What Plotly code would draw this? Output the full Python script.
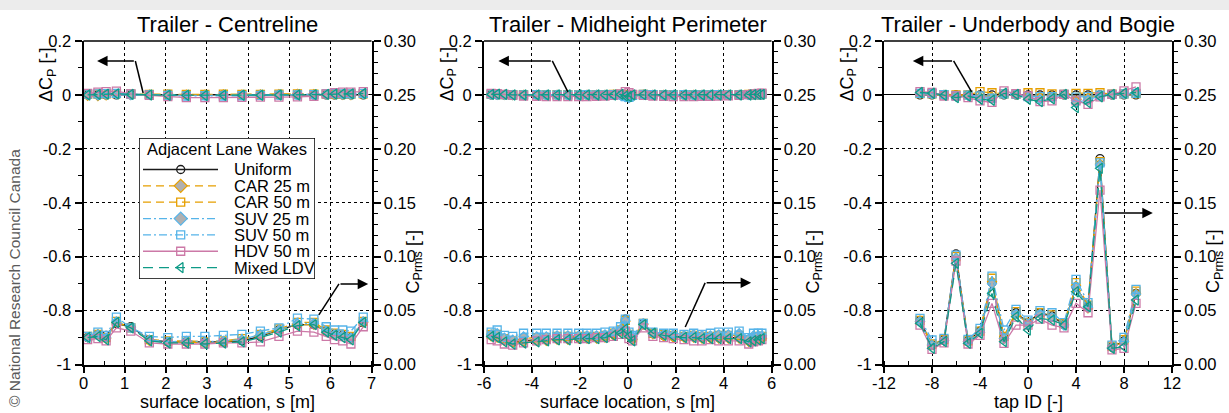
import plotly.graph_objects as go

W, H = 1229, 413
FONT = "Liberation Sans, Arial, sans-serif"

# ---------------------------------------------------------------- labels
SERIES = ["Uniform", "CAR 25 m", "CAR 50 m", "SUV 25 m", "SUV 50 m", "HDV 50 m", "Mixed LDV"]
PANEL_TITLES = ["Trailer - Centreline", "Trailer - Midheight Perimeter", "Trailer - Underbody and Bogie"]
X_TITLES = ["surface location, s [m]", "surface location, s [m]", "tap ID [-]"]
LEGEND_TITLE = "Adjacent Lane Wakes"
LEFT_TITLE = "ΔC<sub>P</sub> [-]"
RIGHT_TITLE = "C<sub>Prms</sub> [-]"
CREDIT = "© National Research Council Canada"

CL_XTICKS = [0, 1, 2, 3, 4, 5, 6, 7]
CL_XLABELS = ["0", "1", "2", "3", "4", "5", "6", "7"]
MP_XTICKS = [-6, -4, -2, 0, 2, 4, 6]
MP_XLABELS = ["-6", "-4", "-2", "0", "2", "4", "6"]
TAP_XTICKS = [-12, -8, -4, 0, 4, 8, 12]
TAP_XLABELS = ["-12", "-8", "-4", "0", "4", "8", "12"]
DCP_TICKS = [-1.0, -0.8, -0.6, -0.4, -0.2, 0.0, 0.2]
DCP_LABELS = ["-1", "-0.8", "-0.6", "-0.4", "-0.2", "0", "0.2"]
RMS_TICKS = [0.0, 0.05, 0.10, 0.15, 0.20, 0.25, 0.30]
RMS_LABELS = ["0.00", "0.05", "0.10", "0.15", "0.20", "0.25", "0.30"]

# ---------------------------------------------------------------- centreline
CL_S = [0.1, 0.35, 0.55, 0.8, 1.15, 1.6, 2.05, 2.5, 2.95, 3.4, 3.85, 4.3, 4.75, 5.2, 5.6, 5.9, 6.1, 6.3, 6.5, 6.8]
CL_DCP = {
    "Uniform":   [0.0, 0.0, 0.0, 0.0, 0.0, 0.0, 0.0, 0.0, 0.0, 0.0, 0.0, 0.0, 0.0, 0.0, 0.0, 0.0, 0.0, 0.0, 0.0, 0.0],
    "CAR 25 m":  [-0.003, -0.004, -0.002, 0.002, 0.000, 0.001, 0.002, 0.001, 0.001, 0.002, 0.001, 0.002, 0.003, 0.004, 0.003, 0.002, 0.001, 0.000, -0.001, 0.001],
    "CAR 50 m":  [0.002, 0.003, 0.004, 0.005, 0.003, 0.002, 0.003, 0.002, 0.002, 0.003, 0.002, 0.002, 0.003, 0.004, 0.003, 0.003, 0.002, 0.002, 0.003, 0.004],
    "SUV 25 m":  [0.000, -0.002, 0.001, 0.002, -0.001, 0.000, 0.001, -0.002, -0.002, -0.001, -0.001, 0.000, 0.001, 0.001, 0.000, 0.002, 0.003, 0.002, 0.001, 0.002],
    "SUV 50 m":  [0.003, 0.004, 0.005, 0.006, 0.003, 0.000, -0.002, -0.004, -0.003, -0.004, -0.003, -0.002, -0.001, 0.000, 0.001, 0.004, 0.005, 0.004, 0.004, 0.006],
    "HDV 50 m":  [0.006, 0.010, 0.012, 0.014, 0.004, -0.002, -0.006, -0.010, -0.010, -0.010, -0.009, -0.008, -0.008, -0.007, -0.005, 0.004, 0.008, 0.010, 0.010, 0.012],
    "Mixed LDV": [0.000, 0.002, 0.003, 0.004, 0.002, 0.000, -0.001, -0.001, -0.002, -0.001, -0.001, -0.001, 0.000, 0.000, 0.001, 0.002, 0.003, 0.004, 0.004, 0.005],
}
CL_RMS = {
    "Uniform":   [0.025, 0.028, 0.027, 0.038, 0.035, 0.023, 0.021, 0.021, 0.021, 0.021, 0.022, 0.026, 0.032, 0.037, 0.037, 0.031, 0.028, 0.027, 0.025, 0.039],
    "CAR 25 m":  [0.025, 0.028, 0.024, 0.039, 0.034, 0.022, 0.021, 0.021, 0.020, 0.021, 0.023, 0.027, 0.032, 0.037, 0.037, 0.031, 0.028, 0.027, 0.025, 0.039],
    "CAR 50 m":  [0.026, 0.028, 0.025, 0.040, 0.034, 0.023, 0.022, 0.022, 0.021, 0.022, 0.024, 0.028, 0.033, 0.039, 0.039, 0.032, 0.029, 0.028, 0.026, 0.040],
    "SUV 25 m":  [0.025, 0.028, 0.025, 0.040, 0.034, 0.023, 0.021, 0.022, 0.021, 0.022, 0.023, 0.028, 0.032, 0.038, 0.038, 0.031, 0.028, 0.027, 0.025, 0.040],
    "SUV 50 m":  [0.026, 0.030, 0.027, 0.044, 0.034, 0.026, 0.025, 0.026, 0.026, 0.027, 0.028, 0.031, 0.034, 0.043, 0.042, 0.035, 0.032, 0.032, 0.031, 0.044],
    "HDV 50 m":  [0.023, 0.024, 0.022, 0.034, 0.031, 0.020, 0.019, 0.019, 0.019, 0.020, 0.020, 0.021, 0.026, 0.031, 0.030, 0.026, 0.023, 0.022, 0.019, 0.035],
    "Mixed LDV": [0.025, 0.026, 0.023, 0.039, 0.034, 0.022, 0.020, 0.020, 0.019, 0.020, 0.021, 0.025, 0.030, 0.036, 0.037, 0.030, 0.027, 0.025, 0.023, 0.039],
}

# ---------------------------------------------------------------- midheight perimeter
MP_S = [-5.7, -5.45, -5.15, -4.8, -4.35, -3.8, -3.4, -2.95, -2.5, -2.05, -1.7, -1.3, -0.95, -0.6, -0.3, -0.1, 0.05,
        0.2, 0.65, 1.05, 1.5, 1.9, 2.35, 2.75, 3.1, 3.45, 3.8, 4.2, 4.65, 5.05, 5.25, 5.45, 5.6]
MP_DCP = {
    "Uniform":   [0.0, 0.0, 0.0, 0.0, 0.0, 0.0, 0.0, 0.0, 0.0, 0.0, 0.0, 0.0, 0.0, 0.0, 0.0, 0.0, 0.0,
                  0.0, 0.0, 0.0, 0.0, 0.0, 0.0, 0.0, 0.0, 0.0, 0.0, 0.0, 0.0, 0.0, 0.0, 0.0, 0.0],
    "CAR 25 m":  [0.001, 0.001, 0.000, -0.001, 0.000, 0.000, -0.001, 0.000, 0.000, -0.001, 0.000, 0.000, 0.000, 0.001, 0.000, -0.003, -0.006,
                  -0.002, 0.001, 0.000, 0.000, -0.001, 0.000, 0.000, 0.000, -0.001, 0.000, 0.000, 0.000, 0.001, 0.001, 0.001, 0.002],
    "CAR 50 m":  [0.002, 0.002, 0.001, 0.001, 0.001, 0.001, 0.001, 0.001, 0.001, 0.001, 0.001, 0.001, 0.001, 0.002, 0.002, 0.000, -0.003,
                  0.001, 0.002, 0.001, 0.001, 0.001, 0.001, 0.001, 0.001, 0.001, 0.001, 0.001, 0.001, 0.002, 0.002, 0.002, 0.003],
    "SUV 25 m":  [0.001, 0.000, 0.000, -0.001, -0.001, 0.000, -0.001, 0.000, -0.001, -0.001, 0.000, 0.000, 0.000, 0.000, -0.002, -0.008, -0.012,
                  -0.004, 0.000, 0.000, -0.001, 0.000, 0.000, -0.001, 0.000, 0.000, 0.000, -0.001, 0.000, 0.000, 0.001, 0.001, 0.001],
    "SUV 50 m":  [0.003, 0.002, 0.001, 0.000, 0.000, 0.001, 0.000, 0.000, 0.000, 0.000, 0.001, 0.000, 0.000, 0.001, 0.000, -0.006, -0.009,
                  -0.002, 0.002, 0.001, 0.000, 0.000, 0.001, 0.000, 0.000, 0.000, 0.001, 0.000, 0.000, 0.001, 0.002, 0.002, 0.003],
    "HDV 50 m":  [0.006, 0.005, 0.002, -0.002, -0.004, -0.005, -0.006, -0.006, -0.006, -0.006, -0.006, -0.005, -0.004, -0.002, 0.004, 0.012, 0.008,
                  0.002, -0.002, -0.004, -0.005, -0.006, -0.006, -0.006, -0.005, -0.005, -0.004, -0.003, -0.002, 0.001, 0.004, 0.006, 0.007],
    "Mixed LDV": [0.002, 0.003, 0.002, 0.000, 0.000, 0.000, 0.000, 0.000, 0.000, 0.000, 0.000, 0.000, 0.000, 0.000, 0.002, -0.004, -0.006,
                  0.000, 0.001, 0.000, 0.000, 0.000, 0.000, 0.000, 0.000, 0.000, 0.000, 0.000, 0.000, 0.000, 0.001, 0.002, 0.002],
}
MP_RMS = {
    "Uniform":   [0.027, 0.026, 0.023, 0.021, 0.022, 0.023, 0.023, 0.024, 0.024, 0.025, 0.025, 0.025, 0.026, 0.028, 0.031, 0.042, 0.028,
                  0.024, 0.038, 0.029, 0.027, 0.026, 0.026, 0.026, 0.025, 0.025, 0.025, 0.025, 0.025, 0.022, 0.023, 0.024, 0.025],
    "CAR 25 m":  [0.026, 0.025, 0.022, 0.020, 0.021, 0.022, 0.022, 0.023, 0.023, 0.024, 0.024, 0.024, 0.025, 0.027, 0.030, 0.040, 0.027,
                  0.023, 0.037, 0.028, 0.026, 0.025, 0.025, 0.025, 0.024, 0.024, 0.024, 0.024, 0.024, 0.021, 0.022, 0.023, 0.024],
    "CAR 50 m":  [0.028, 0.028, 0.024, 0.022, 0.024, 0.025, 0.025, 0.026, 0.026, 0.026, 0.026, 0.026, 0.027, 0.029, 0.032, 0.041, 0.028,
                  0.025, 0.038, 0.029, 0.028, 0.027, 0.026, 0.027, 0.026, 0.026, 0.027, 0.027, 0.027, 0.023, 0.025, 0.026, 0.026],
    "SUV 25 m":  [0.028, 0.029, 0.025, 0.023, 0.026, 0.026, 0.026, 0.027, 0.027, 0.027, 0.027, 0.027, 0.028, 0.030, 0.033, 0.041, 0.029,
                  0.026, 0.038, 0.029, 0.028, 0.028, 0.027, 0.028, 0.027, 0.027, 0.028, 0.028, 0.029, 0.024, 0.027, 0.027, 0.027],
    "SUV 50 m":  [0.030, 0.032, 0.027, 0.026, 0.029, 0.029, 0.029, 0.029, 0.029, 0.029, 0.029, 0.029, 0.030, 0.031, 0.035, 0.042, 0.030,
                  0.027, 0.038, 0.030, 0.029, 0.029, 0.028, 0.029, 0.028, 0.029, 0.030, 0.030, 0.031, 0.025, 0.029, 0.029, 0.029],
    "HDV 50 m":  [0.023, 0.022, 0.019, 0.018, 0.020, 0.022, 0.023, 0.024, 0.024, 0.024, 0.024, 0.025, 0.025, 0.026, 0.028, 0.031, 0.024,
                  0.022, 0.034, 0.026, 0.025, 0.024, 0.023, 0.022, 0.022, 0.023, 0.022, 0.022, 0.022, 0.019, 0.021, 0.022, 0.023],
    "Mixed LDV": [0.026, 0.025, 0.021, 0.019, 0.020, 0.021, 0.022, 0.023, 0.023, 0.024, 0.024, 0.024, 0.025, 0.027, 0.029, 0.033, 0.026,
                  0.022, 0.037, 0.029, 0.027, 0.026, 0.025, 0.025, 0.024, 0.024, 0.024, 0.024, 0.024, 0.021, 0.022, 0.023, 0.024],
}

# ---------------------------------------------------------------- underbody and bogie
TAP_ID = [-9, -8, -7, -6, -5, -4, -3, -2, -1, 0, 1, 2, 3, 4, 5, 6, 7, 8, 9]
TAP_DCP = {
    "Uniform":   [0.0, 0.0, 0.0, 0.0, 0.0, 0.0, 0.0, 0.0, 0.0, 0.0, 0.0, 0.0, 0.0, 0.0, 0.0, 0.0, 0.0, 0.0, 0.0],
    "CAR 25 m":  [0.004, 0.002, 0.000, -0.004, -0.002, -0.006, -0.008, 0.003, 0.002, -0.005, -0.008, -0.005, 0.001, -0.020, -0.010, -0.002, 0.001, 0.003, 0.005],
    "CAR 50 m":  [0.005, 0.004, 0.001, 0.000, 0.000, 0.012, 0.008, 0.004, 0.003, 0.008, 0.008, 0.004, 0.002, 0.006, 0.006, 0.008, 0.003, 0.004, 0.005],
    "SUV 25 m":  [0.005, 0.003, 0.000, -0.006, -0.003, -0.010, -0.014, 0.003, 0.002, -0.010, -0.016, -0.010, 0.001, -0.030, -0.018, -0.004, 0.001, 0.004, 0.007],
    "SUV 50 m":  [0.006, 0.005, 0.001, -0.003, -0.001, -0.004, -0.012, 0.004, 0.003, -0.006, -0.006, -0.006, 0.002, -0.008, -0.006, -0.001, 0.002, 0.004, 0.006],
    "HDV 50 m":  [0.012, 0.009, -0.004, -0.004, -0.010, -0.022, -0.028, 0.015, 0.005, -0.004, -0.025, -0.022, 0.002, -0.022, -0.035, -0.007, 0.002, 0.015, 0.030],
    "Mixed LDV": [0.009, 0.006, -0.001, -0.010, -0.004, -0.016, -0.020, 0.006, 0.002, -0.016, -0.025, -0.014, 0.002, -0.047, -0.028, -0.007, 0.002, 0.006, 0.009],
}
TAP_RMS = {
    "Uniform":   [0.041, 0.018, 0.023, 0.1025, 0.022, 0.031, 0.076, 0.025, 0.048, 0.039, 0.048, 0.045, 0.037, 0.072, 0.054, 0.191, 0.016, 0.022, 0.066],
    "CAR 25 m":  [0.040, 0.018, 0.022, 0.099, 0.021, 0.030, 0.077, 0.024, 0.047, 0.038, 0.047, 0.044, 0.037, 0.073, 0.052, 0.186, 0.016, 0.021, 0.066],
    "CAR 50 m":  [0.041, 0.019, 0.023, 0.100, 0.022, 0.031, 0.080, 0.026, 0.049, 0.039, 0.048, 0.046, 0.038, 0.076, 0.055, 0.188, 0.017, 0.023, 0.068],
    "SUV 25 m":  [0.040, 0.018, 0.022, 0.099, 0.021, 0.030, 0.075, 0.024, 0.047, 0.037, 0.047, 0.044, 0.036, 0.072, 0.053, 0.185, 0.016, 0.021, 0.065],
    "SUV 50 m":  [0.0428, 0.0227, 0.0243, 0.1015, 0.0233, 0.0335, 0.082, 0.032, 0.0511, 0.0412, 0.0499, 0.048, 0.0388, 0.079, 0.0573, 0.187, 0.018, 0.0252, 0.0697],
    "HDV 50 m":  [0.0366, 0.014, 0.020, 0.096, 0.019, 0.027, 0.0567, 0.0195, 0.0366, 0.0366, 0.042, 0.0366, 0.034, 0.0567, 0.048, 0.1618, 0.0135, 0.015, 0.0567],
    "Mixed LDV": [0.0382, 0.015, 0.0212, 0.0938, 0.0196, 0.0289, 0.066, 0.0212, 0.0443, 0.032, 0.0428, 0.0412, 0.0366, 0.0675, 0.0536, 0.1819, 0.015, 0.0165, 0.0598],
}

# ---------------------------------------------------------------- styles
STYLE = {
    "Uniform":   dict(color="#1a1a1a", dash="solid", symbol="circle-open", fill=None, size=8),
    "CAR 25 m":  dict(color="#E69F00", dash="8px,5px", symbol="diamond", fill="#B0B0B0", size=7),
    "CAR 50 m":  dict(color="#E69F00", dash="8px,5px", symbol="square-open", fill=None, size=8),
    "SUV 25 m":  dict(color="#56B4E9", dash="8px,3px,2px,3px", symbol="diamond", fill="#B0B0B0", size=7),
    "SUV 50 m":  dict(color="#56B4E9", dash="8px,3px,2px,3px", symbol="square-open", fill=None, size=8),
    "HDV 50 m":  dict(color="#CC79A7", dash="solid", symbol="square-open", fill=None, size=8),
    "Mixed LDV": dict(color="#0F9B87", dash="10px,6px", symbol="triangle-left-open", fill=None, size=9),
}
LEGEND_MARKER_SIZE = {"CAR 25 m": 10, "SUV 25 m": 10}


def marker_for(name, size=None):
    st = STYLE[name]
    sz = size if size is not None else st["size"]
    if st["fill"]:
        return dict(symbol=st["symbol"], size=sz, color=st["fill"],
                    line=dict(color=st["color"], width=1.2))
    return dict(symbol=st["symbol"], size=sz, color=st["color"],
                line=dict(color=st["color"], width=1.3))


def line_for(name):
    st = STYLE[name]
    return dict(color=st["color"], width=1.3, dash=st["dash"])


# ---------------------------------------------------------------- geometry (pixels)
PLOT_TOP, PLOT_BOTTOM = 41, 364.5
PANEL_X = [(83.5, 371.5), (484, 771.5), (884, 1172)]
LEG_BOX = (139, 138, 315, 279)  # left, top, right, bottom


def fx(px):
    return px / W


def fy(py):
    return 1 - py / H


PANELS = [
    dict(x=CL_S, dcp=CL_DCP, rms=CL_RMS, ticks=CL_XTICKS, labels=CL_XLABELS, rng=[0, 7], minor=0.5),
    dict(x=MP_S, dcp=MP_DCP, rms=MP_RMS, ticks=MP_XTICKS, labels=MP_XLABELS, rng=[-6, 6], minor=1),
    dict(x=TAP_ID, dcp=TAP_DCP, rms=TAP_RMS, ticks=TAP_XTICKS, labels=TAP_XLABELS, rng=[-12, 12], minor=2),
]
XA = ["x", "x2", "x3"]
YL = ["y", "y2", "y3"]
YR = ["y4", "y5", "y6"]

fig = go.Figure()

for i, p in enumerate(PANELS):
    for name in SERIES:
        fig.add_trace(go.Scatter(x=p["x"], y=p["dcp"][name], xaxis=XA[i], yaxis=YL[i], mode="lines+markers",
                                 line=line_for(name), marker=marker_for(name), showlegend=False,
                                 name=name))
    for name in SERIES:
        fig.add_trace(go.Scatter(x=p["x"], y=p["rms"][name], xaxis=XA[i], yaxis=YR[i], mode="lines+markers",
                                 line=line_for(name), marker=marker_for(name), showlegend=False,
                                 name=name))

# ---------------------------------------------------------------- legend drawn on its own pixel axes
LEG_W = LEG_BOX[2] - LEG_BOX[0]
LEG_H = LEG_BOX[3] - LEG_BOX[1]
ROW0, ROW_STEP = 31.5, 16.35
SAMPLE_X0, SAMPLE_X1, SAMPLE_MID, TEXT_X = 4, 79, 41.7, 92.5

for k, name in enumerate(SERIES):
    ry = ROW0 + k * ROW_STEP
    fig.add_trace(go.Scatter(x=[SAMPLE_X0, SAMPLE_X1], y=[ry, ry], xaxis="x4", yaxis="y7", mode="lines",
                             line=line_for(name), showlegend=False, hoverinfo="skip"))
    fig.add_trace(go.Scatter(x=[SAMPLE_MID], y=[ry], xaxis="x4", yaxis="y7", mode="markers",
                             marker=marker_for(name, LEGEND_MARKER_SIZE.get(name)),
                             showlegend=False, hoverinfo="skip"))

tick_font = dict(family=FONT, size=16.5, color="black")


def x_axis(i):
    p = PANELS[i]
    return dict(domain=[fx(PANEL_X[i][0]), fx(PANEL_X[i][1])], anchor=YL[i], range=p["rng"],
                tickmode="array", tickvals=p["ticks"], ticktext=p["labels"],
                ticks="outside", ticklen=6, tickwidth=1.5, tickcolor="black", ticklabelstandoff=-3,
                showline=True, linecolor="black", linewidth=2, mirror=False, automargin=False,
                showgrid=True, gridcolor="black", griddash="dot", gridwidth=1, zeroline=False,
                minor=dict(tickmode="linear", tick0=p["rng"][0], dtick=p["minor"], ticks="inside",
                           ticklen=4, tickwidth=1, tickcolor="black", showgrid=False),
                tickfont=tick_font, fixedrange=True)


def y_left(i):
    return dict(domain=[fy(PLOT_BOTTOM), fy(PLOT_TOP)], anchor=XA[i], range=[-1, 0.2],
                tickmode="array", tickvals=DCP_TICKS, ticktext=DCP_LABELS,
                ticks="outside", ticklen=7, tickwidth=1.5, tickcolor="black",
                showline=True, linecolor="black", linewidth=2, mirror=False, automargin=False,
                showgrid=True, gridcolor="black", griddash="dot", gridwidth=1,
                zeroline=True, zerolinecolor="black", zerolinewidth=1.3,
                minor=dict(tickmode="linear", tick0=-1, dtick=0.1, ticks="outside",
                           ticklen=4, tickwidth=1, tickcolor="black", showgrid=False),
                tickfont=tick_font, fixedrange=True)


def y_right(i):
    return dict(domain=[fy(PLOT_BOTTOM), fy(PLOT_TOP)], anchor=XA[i], overlaying=YL[i], side="right",
                range=[0, 0.3], tickmode="array", tickvals=RMS_TICKS, ticktext=RMS_LABELS,
                ticks="outside", ticklen=7, tickwidth=1.5, tickcolor="black", automargin=False,
                showline=True, linecolor="black", linewidth=2, showgrid=False, zeroline=False,
                minor=dict(tickmode="linear", tick0=0, dtick=0.01, ticks="outside",
                           ticklen=4, tickwidth=1, tickcolor="black", showgrid=False),
                tickfont=tick_font, fixedrange=True)


layout = dict(
    template="none",
    width=W, height=H, margin=dict(l=0, r=0, t=0, b=0, pad=0, autoexpand=False),
    paper_bgcolor="white", plot_bgcolor="rgba(0,0,0,0)",
    font=dict(family=FONT, color="black"), showlegend=False,
)
for i in range(3):
    layout["xaxis" if i == 0 else f"xaxis{i + 1}"] = x_axis(i)
    layout["yaxis" if i == 0 else f"yaxis{i + 1}"] = y_left(i)
    layout[f"yaxis{i + 4}"] = y_right(i)

layout["xaxis4"] = dict(domain=[fx(LEG_BOX[0]), fx(LEG_BOX[2])], anchor="y7", range=[0, LEG_W],
                        visible=False, fixedrange=True, automargin=False)
layout["yaxis7"] = dict(domain=[fy(LEG_BOX[3]), fy(LEG_BOX[1])], anchor="x4", range=[LEG_H, 0],
                        visible=False, fixedrange=True, automargin=False)

fig.update_layout(**layout)

# ---------------------------------------------------------------- shapes
shapes = [
    # light band above the card
    dict(type="rect", xref="paper", yref="paper", x0=0, x1=1, y0=fy(10), y1=1,
         fillcolor="#ececec", line=dict(width=0), layer="below"),
    # legend frame
    dict(type="rect", xref="x4", yref="y7", x0=0, x1=LEG_W, y0=0, y1=LEG_H,
         fillcolor="white", line=dict(color="black", width=1.5), layer="below"),
]
for i in range(3):
    shapes.append(dict(type="line", xref=f"{XA[i]} domain", yref=f"{YL[i]} domain", x0=0, x1=1, y0=1, y1=1,
                       line=dict(color="black", width=1.5), layer="above"))

# pointer arrows: (panel, head, tail, kink end or None)
ARROWS = [
    (0, (0.33, 0.126), (1.26, 0.126), (1.45, 0.007)),
    (0, (6.92, -0.701), (6.21, -0.701), (5.72, -0.816)),
    (1, (-5.4, 0.126), (-3.15, 0.126), (-2.5, 0.011)),
    (1, (5.15, -0.697), (3.23, -0.697), (2.4, -0.861)),
    (2, (-9.6, 0.126), (-6.2, 0.126), (-4.7, 0.011)),
    (2, (10.4, -0.438), (6.25, -0.438), None),
]
annotations = []
for pi, head, tail, kink in ARROWS:
    annotations.append(dict(x=head[0], y=head[1], ax=tail[0], ay=tail[1], xref=XA[pi], yref=YL[pi],
                            axref=XA[pi], ayref=YL[pi], text="", showarrow=True, arrowhead=2,
                            arrowsize=1.4, arrowwidth=1.5, arrowcolor="black", standoff=0))
    if kink is not None:
        shapes.append(dict(type="line", xref=XA[pi], yref=YL[pi], x0=tail[0], y0=tail[1], x1=kink[0], y1=kink[1],
                           line=dict(color="black", width=1.5), layer="above"))

# ---------------------------------------------------------------- texts
for i in range(3):
    cx = (PANEL_X[i][0] + PANEL_X[i][1]) / 2
    annotations.append(dict(x=fx(cx), y=fy(24), xref="paper", yref="paper", text=PANEL_TITLES[i],
                            showarrow=False, xanchor="center", yanchor="middle",
                            font=dict(family=FONT, size=22, color="black")))
    annotations.append(dict(x=fx(cx), y=fy(402), xref="paper", yref="paper", text=X_TITLES[i],
                            showarrow=False, xanchor="center", yanchor="middle",
                            font=dict(family=FONT, size=18, color="black")))
    annotations.append(dict(x=fx(PANEL_X[i][0] - 36.5), y=fy(75), xref="paper", yref="paper", text=LEFT_TITLE,
                            showarrow=False, xanchor="center", yanchor="middle", textangle=-90,
                            font=dict(family=FONT, size=18, color="black")))
    annotations.append(dict(x=fx(PANEL_X[i][1] + 42), y=fy(262), xref="paper", yref="paper", text=RIGHT_TITLE,
                            showarrow=False, xanchor="center", yanchor="middle", textangle=-90,
                            font=dict(family=FONT, size=18, color="black")))

annotations.append(dict(x=fx(14), y=fy(278), xref="paper", yref="paper", text=CREDIT, showarrow=False,
                        xanchor="center", yanchor="middle", textangle=-90,
                        font=dict(family=FONT, size=15.5, color="#5a5a5a")))

annotations.append(dict(x=LEG_W / 2, y=11.5, xref="x4", yref="y7", text=LEGEND_TITLE, showarrow=False,
                        xanchor="center", yanchor="middle", font=dict(family=FONT, size=16.5, color="black")))
for k, name in enumerate(SERIES):
    annotations.append(dict(x=TEXT_X, y=ROW0 + k * ROW_STEP, xref="x4", yref="y7", text=name, showarrow=False,
                            xanchor="left", yanchor="middle", font=dict(family=FONT, size=16.5, color="black")))

fig.update_layout(shapes=shapes, annotations=annotations)

fig.write_html("out.html", config={"displayModeBar": False})
